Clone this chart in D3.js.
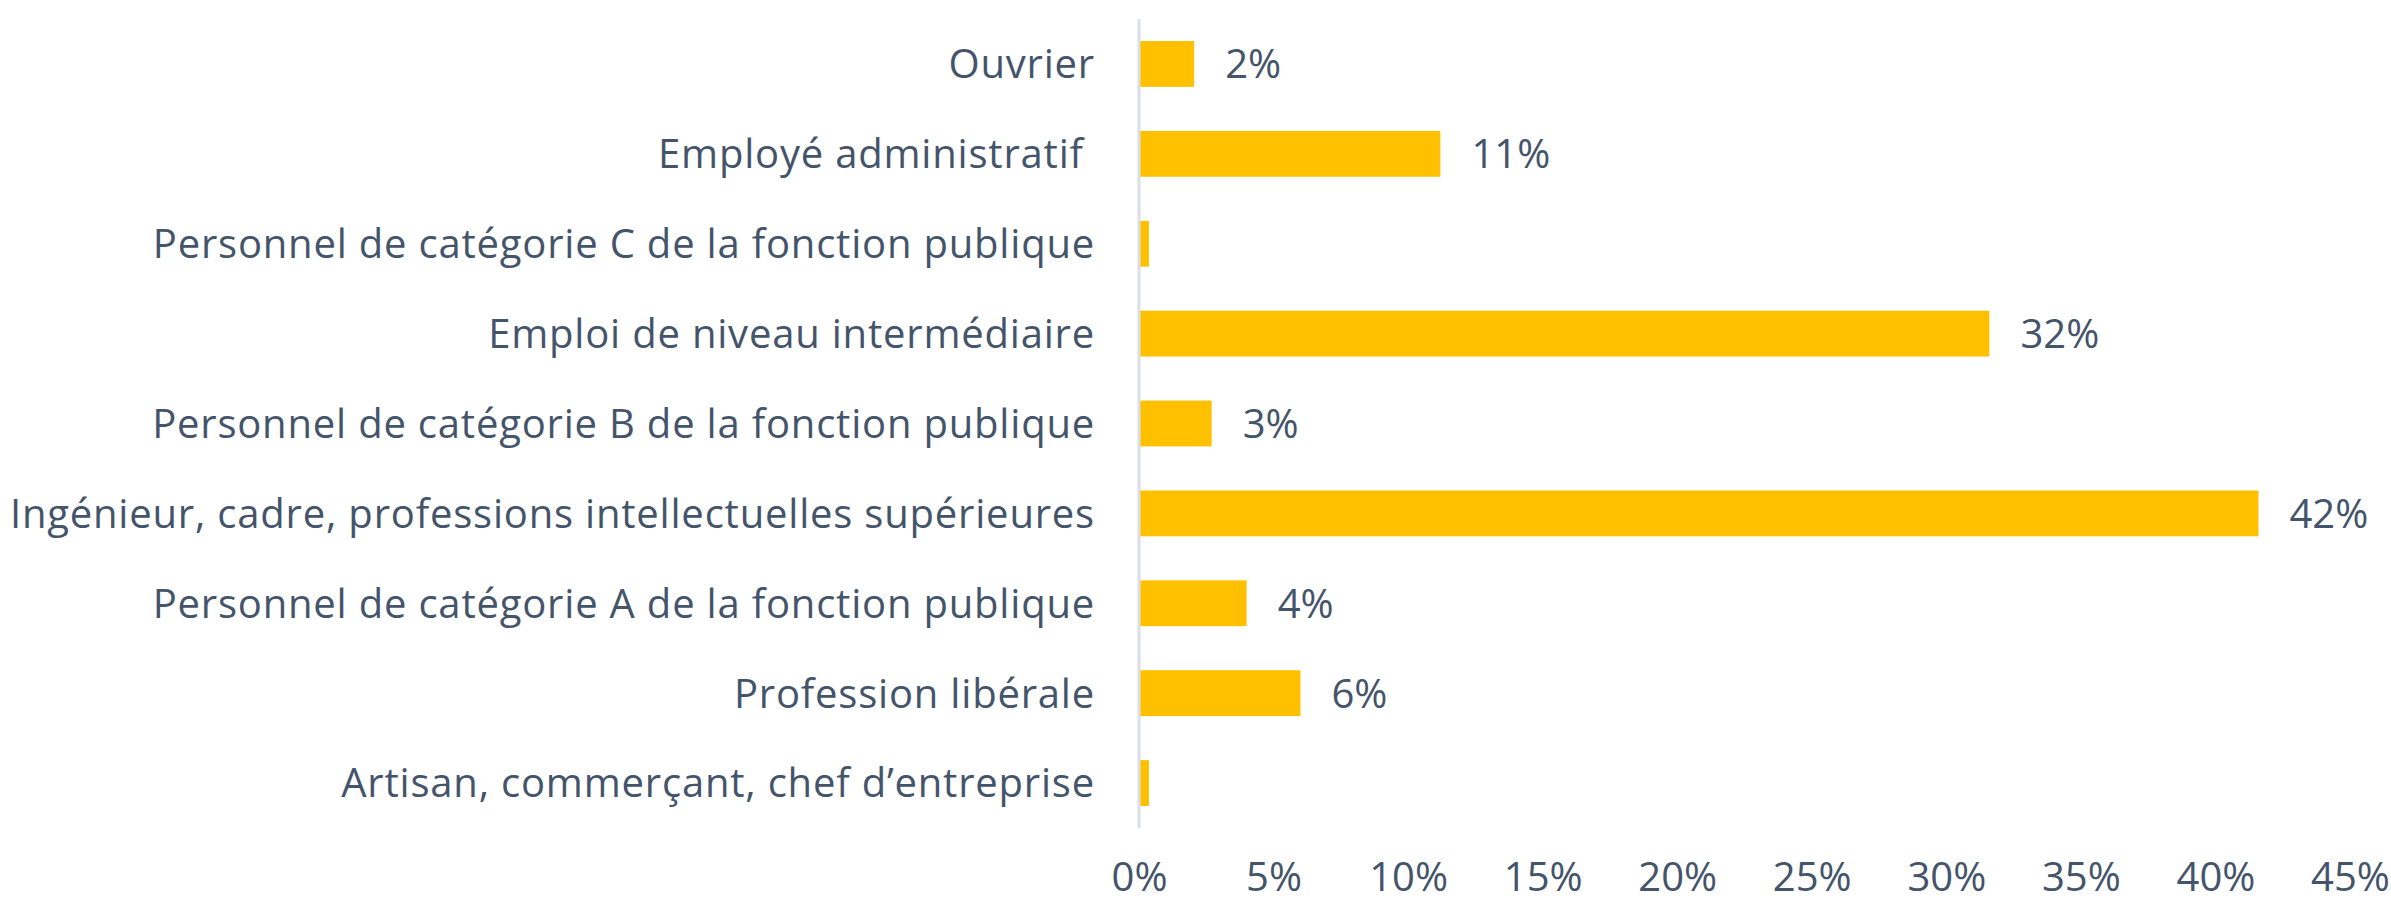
<!DOCTYPE html>
<html>
<head>
<meta charset="utf-8">
<script src="https://cdn.jsdelivr.net/npm/d3@7"></script>
<style>
  body { margin: 0; background: #fff; }
  text { font-family: "Open Sans", Lato, sans-serif; fill: #44546a; }
</style>
</head>
<body>
<svg id="chart"></svg>
<script>
const categories = [
  'Ouvrier',
  'Employé administratif ',
  'Personnel de catégorie C de la fonction publique',
  'Emploi de niveau intermédiaire',
  'Personnel de catégorie B de la fonction publique',
  'Ingénieur, cadre, professions intellectuelles supérieures',
  'Personnel de catégorie A de la fonction publique',
  'Profession libérale',
  'Artisan, commerçant, chef d’entreprise'
];
const values = [0.0205, 0.112, 0.0037, 0.316, 0.027, 0.416, 0.040, 0.060, 0.0037];
const valueLabels = ['2%', '11%', '', '32%', '3%', '42%', '4%', '6%', ''];
const xTicks = [0, 0.05, 0.10, 0.15, 0.20, 0.25, 0.30, 0.35, 0.40, 0.45];

const width = 2391, height = 903;
const fontSize = 40;

const svg = d3.select('#chart').attr('width', width).attr('height', height);

const x = d3.scaleLinear().domain([0, 0.45]).range([1139, 2350]);
const y = d3.scaleBand().domain(categories).range([19, 828]).paddingInner(0.49).paddingOuter(0.245);

// bars
svg.append('g')
  .selectAll('rect')
  .data(values)
  .enter()
  .append('rect')
  .attr('x', x(0))
  .attr('y', (d, i) => y(categories[i]))
  .attr('width', d => x(d) - x(0))
  .attr('height', y.bandwidth())
  .style('fill', '#ffc000');

// vertical axis line
svg.append('line')
  .attr('x1', x(0)).attr('x2', x(0))
  .attr('y1', 19).attr('y2', 828)
  .style('stroke', '#d9dee7')
  .style('stroke-width', 3);

// category labels
svg.append('g')
  .selectAll('text')
  .data(categories)
  .enter()
  .append('text')
  .attr('x', x(0) - 44)
  .attr('y', d => y(d) + y.bandwidth() / 2)
  .attr('dy', '0.36em')
  .attr('text-anchor', 'end')
  .style('white-space', 'pre')
  .style('letter-spacing', '0.8px')
  .style('font-size', fontSize + 'px')
  .text(d => d);

// value labels
svg.append('g')
  .selectAll('text')
  .data(values)
  .enter()
  .append('text')
  .attr('x', d => x(d) + 31)
  .attr('y', (d, i) => y(categories[i]) + y.bandwidth() / 2)
  .attr('dy', '0.36em')
  .style('font-size', fontSize + 'px')
  .text((d, i) => valueLabels[i]);

// x axis
const xAxis = svg.append('g')
  .call(d3.axisBottom(x).tickValues(xTicks).tickFormat(d3.format('.0%')).tickSize(0));
xAxis.select('.domain').remove();
xAxis.selectAll('text')
  .attr('y', 891)
  .attr('dy', 0)
  .style('font-size', fontSize + 'px')
  .style('font-family', '"Open Sans", Lato, sans-serif')
  .style('fill', '#44546a');
</script>
</body>
</html>
